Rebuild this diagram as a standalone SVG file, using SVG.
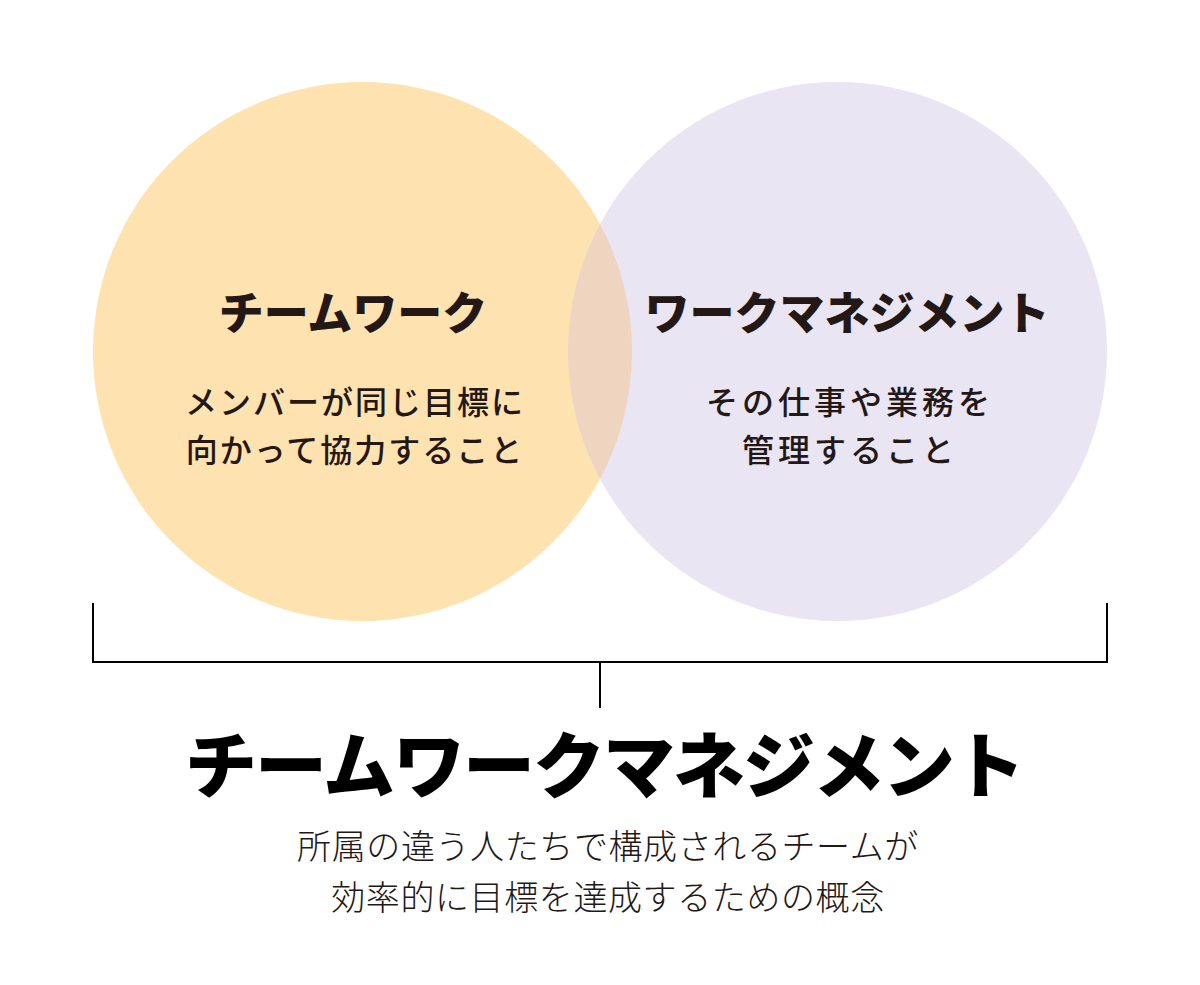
<svg xmlns="http://www.w3.org/2000/svg" width="1200" height="985" viewBox="0 0 1200 985">
<style>
.h{font-family:"Noto Sans CJK JP","Noto Sans",sans-serif;font-weight:900;font-size:45px;fill:#231815;text-anchor:middle}
.b{font-family:"Noto Sans CJK JP","Noto Sans",sans-serif;font-weight:500;font-size:32px;fill:#231815;text-anchor:middle;letter-spacing:2px}
.b2{letter-spacing:4px}
.t{font-family:"Noto Sans CJK JP","Noto Sans",sans-serif;font-weight:900;font-size:72px;fill:#000;text-anchor:middle;letter-spacing:-2px}
.s{font-family:"Noto Sans CJK JP","Noto Sans",sans-serif;font-weight:300;font-size:34px;fill:#231815;text-anchor:middle;letter-spacing:0.6px}
.ln{stroke:#000;stroke-width:2;fill:none}
</style>
<defs>
<clipPath id="cl"><circle cx="362.5" cy="351.5" r="269.5"/></clipPath>
</defs>
<rect width="1200" height="985" fill="#fff"/>
<g id="teamwork">
<circle cx="362.5" cy="351.5" r="269.5" fill="#fee2b0"/>
</g>
<g id="workmanagement">
<circle cx="837.5" cy="351.5" r="269.5" fill="#e9e5f2"/>
</g>
<g id="overlap">
<circle cx="837.5" cy="351.5" r="269.5" fill="#efd4c0" clip-path="url(#cl)"/>
</g>
<g id="teamwork-text">
<text class="h" x="353" y="330">チームワーク</text>
<text class="b" x="355" y="414">メンバーが同じ目標に</text>
<text class="b" x="355" y="462">向かって協力すること</text>
</g>
<g id="workmanagement-text">
<text class="h" x="847" y="330">ワークマネジメント</text>
<text class="b b2" x="850" y="414">その仕事や業務を</text>
<text class="b b2" x="850" y="462">管理すること</text>
</g>
<g id="connectors">
<path class="ln" d="M93 603 V662 H1107 V603"/>
<path class="ln" d="M600 662 V708"/>
</g>
<g id="title">
<text class="t" x="604" y="792">チームワークマネジメント</text>
<text class="s" x="608" y="859">所属の違う人たちで構成されるチームが</text>
<text class="s" x="608" y="910">効率的に目標を達成するための概念</text>
</g>
</svg>
